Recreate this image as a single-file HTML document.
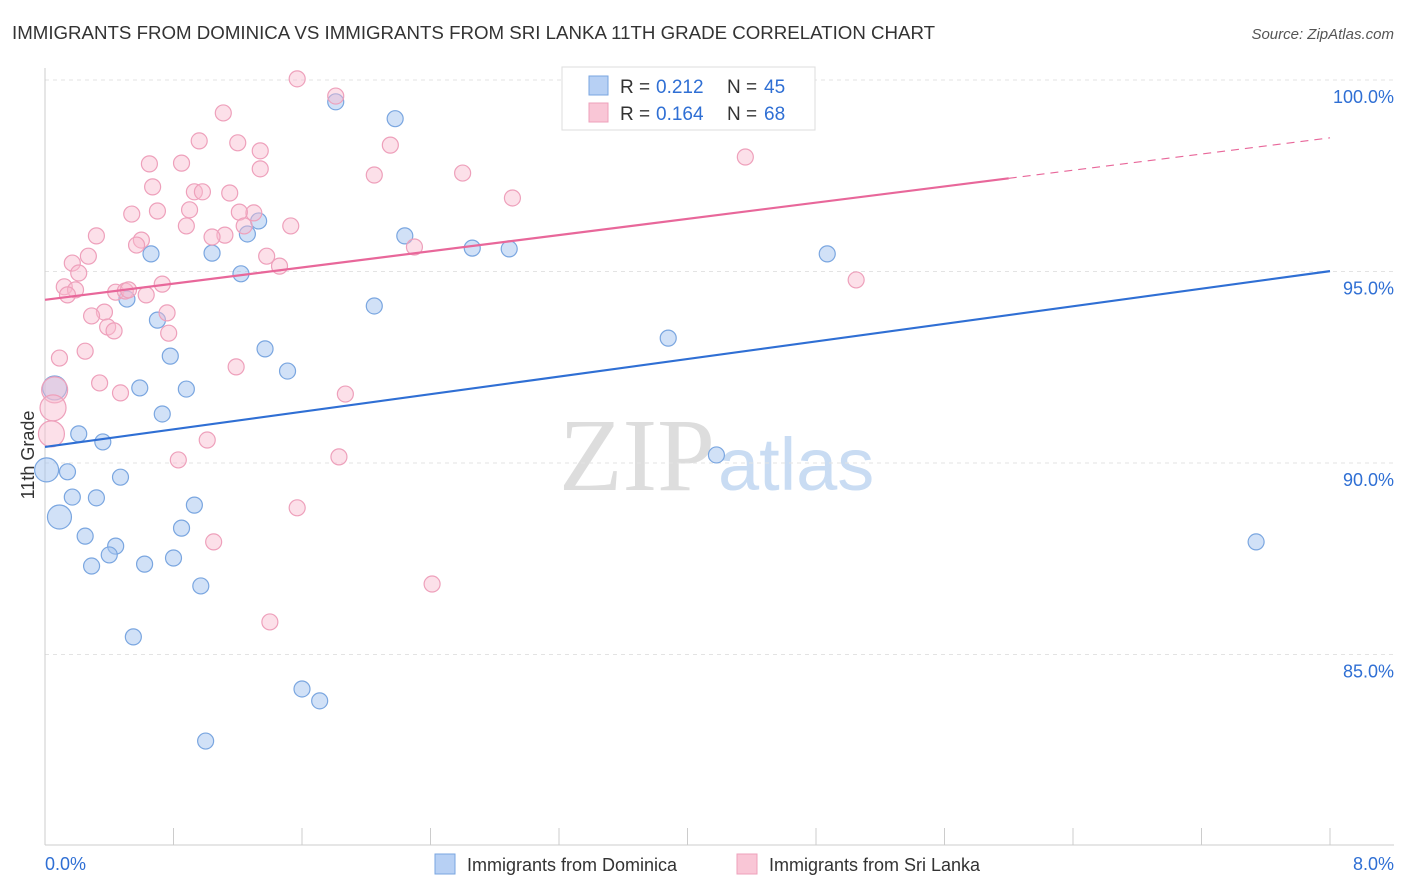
<!DOCTYPE html>
<html><head><meta charset="utf-8"><style>
body{margin:0;background:#fff;font-family:"Liberation Sans",sans-serif}
#c{position:relative;width:1406px;height:892px;overflow:hidden}
</style></head><body>
<div id="c">
<svg id="s" width="1406" height="892" xmlns="http://www.w3.org/2000/svg">
<text x="12" y="39" font-size="18.7" fill="#333">IMMIGRANTS FROM DOMINICA VS IMMIGRANTS FROM SRI LANKA 11TH GRADE CORRELATION CHART</text>
<text x="1394" y="39" font-size="15" fill="#555" text-anchor="end" font-style="italic">Source: ZipAtlas.com</text>
<text x="715" y="490" font-size="104" fill="#ddd" text-anchor="end" font-family="Liberation Serif">ZIP</text>
<text x="718" y="490" font-size="74" fill="#c9dcf3">atlas</text>
<text transform="translate(34,455) rotate(-90)" font-size="18" fill="#333" text-anchor="middle">11th Grade</text>
<g id="grid"></g><g id="pts"></g><g id="lines"></g>
<g>
<rect x="562" y="67" width="253" height="63" fill="#fff" stroke="#ddd"/>
<rect x="589" y="76" width="19" height="19" fill="#b7d0f4" stroke="#7aa6e0"/>
<rect x="589" y="103" width="19" height="19" fill="#f9c6d6" stroke="#eea0bb"/>
<text y="93" font-size="19" fill="#333"><tspan x="620">R =</tspan><tspan x="656" fill="#2f6fd4">0.212</tspan><tspan x="727">N =</tspan><tspan x="764" fill="#2f6fd4">45</tspan></text>
<text y="120" font-size="19" fill="#333"><tspan x="620">R =</tspan><tspan x="656" fill="#2f6fd4">0.164</tspan><tspan x="727">N =</tspan><tspan x="764" fill="#2f6fd4">68</tspan></text>
</g>
<g>
<rect x="435" y="854" width="20" height="20" fill="#b7d0f4" stroke="#7aa6e0"/>
<text x="467" y="871" font-size="18" fill="#333">Immigrants from Dominica</text>
<rect x="737" y="854" width="20" height="20" fill="#f9c6d6" stroke="#eea0bb"/>
<text x="769" y="871" font-size="18" fill="#333">Immigrants from Sri Lanka</text>
</g>
<text x="45" y="870" font-size="18" fill="#2f6fd4">0.0%</text>
<text x="1394" y="870" font-size="18" fill="#2f6fd4" text-anchor="end">8.0%</text>
</svg></div>
<script>
const blueX=[1.81,2.18,1.33,1.26,2.24,0.66,1.04,2.66,2.89,4.87,1.22,0.51,2.05,0.70,1.37,0.78,3.88,1.51,0.06,0.59,0.88,0.73,0.21,0.36,0.01,0.14,0.47,0.17,0.32,0.09,0.93,0.85,0.25,0.44,0.40,0.29,0.62,0.80,0.97,4.18,7.54,0.55,1.60,1.71,1.00];
const blueY=[99.43,98.99,96.32,95.98,95.93,95.46,95.48,95.61,95.59,95.46,94.94,94.28,94.10,93.73,92.98,92.79,93.26,92.40,91.96,91.96,91.93,91.28,90.76,90.55,89.82,89.77,89.63,89.11,89.09,88.59,88.90,88.30,88.09,87.83,87.60,87.31,87.36,87.52,86.79,90.21,87.94,85.46,84.10,83.79,82.74];
const blueBig=[0,0,0,0,0,0,0,0,0,0,0,0,0,0,0,0,0,0,1,0,0,0,0,0,1,0,0,0,0,1,0,0,0,0,0,0,0,0,0,0,0,0,0,0,0];
const pinkX=[1.57,1.81,1.11,0.96,1.20,2.15,1.34,0.65,0.85,1.34,2.05,2.60,4.36,0.67,0.93,1.15,0.98,2.91,0.54,0.70,0.90,1.30,1.21,1.24,0.88,1.53,0.32,1.12,1.04,0.60,0.57,2.30,0.27,0.17,1.38,0.21,1.46,0.12,0.19,0.14,0.44,0.50,0.52,0.63,0.73,5.05,0.37,0.29,0.76,0.39,0.43,0.77,0.25,0.09,0.34,0.47,0.06,0.05,0.04,1.19,1.87,1.01,0.83,1.83,1.57,1.05,2.41,1.40];
const pinkY=[100.03,99.58,99.14,98.41,98.36,98.30,98.15,97.81,97.83,97.68,97.52,97.57,97.99,97.21,97.08,97.05,97.08,96.92,96.50,96.58,96.61,96.53,96.55,96.19,96.19,96.19,95.93,95.95,95.90,95.82,95.69,95.64,95.40,95.22,95.40,94.96,95.14,94.60,94.52,94.39,94.46,94.49,94.52,94.39,94.67,94.78,93.94,93.84,93.92,93.55,93.45,93.39,92.92,92.74,92.09,91.83,91.91,91.44,90.76,92.51,91.80,90.60,90.08,90.16,88.83,87.94,86.84,85.85];
const pinkBig=pinkX.map((_,i)=>i>=56&&i<=58?1:0);
const yTicks=[100,95,90,85];
const yTickLabels=["100.0%","95.0%","90.0%","85.0%"];
const xTicks=[0,0.8,1.6,2.4,3.2,4,4.8,5.6,6.4,7.2,8];
const blueTrend=[90.42,95.01];
const pinkTrend=[94.26,98.49];
const pinkSolidEnd=6;
const X=v=>45+v*160.625, Y=v=>80+(100-v)*38.3;
const NS="http://www.w3.org/2000/svg";
function mk(t,a,p){const e=document.createElementNS(NS,t);for(const k in a)e.setAttribute(k,a[k]);p.appendChild(e);return e;}
const g=document.getElementById('grid');
yTicks.forEach((t,i)=>{
 const l=mk('line',{x1:45,x2:1394,y1:Y(t),y2:Y(t),stroke:'#e3e3e3','stroke-dasharray':'4,4'},g);
 
 
 const tx=mk('text',{x:1394,y:Y(t)+23,'font-size':18,fill:'#2f6fd4','text-anchor':'end'},g);
 tx.textContent=yTickLabels[i];
 
 
});
const ax=mk('line',{x1:45,x2:45,y1:68,y2:845,stroke:'#ccc'},g);


const bx=mk('line',{x1:45,x2:1394,y1:845,y2:845,stroke:'#ccc'},g);


xTicks.forEach(t=>{
 const l=mk('line',{x1:X(t),x2:X(t),y1:828,y2:845,stroke:'#ccc'},g);
 
 
});
const p=document.getElementById('pts');
blueX.forEach((v,i)=>{
 const c=mk('circle',{cx:X(v),cy:Y(blueY[i]),r:blueBig[i]?12:8,fill:'rgba(164,196,240,0.5)',stroke:'#7aa6e0','stroke-width':1.2},p);
 
 
});
pinkX.forEach((v,i)=>{
 const c=mk('circle',{cx:X(v),cy:Y(pinkY[i]),r:pinkBig[i]?13:8,fill:'rgba(248,186,206,0.45)',stroke:'#eea0bb','stroke-width':1.2},p);
 
 
});
const L=document.getElementById('lines');
const bl=mk('line',{x1:X(0),y1:Y(blueTrend[0]),x2:X(8),y2:Y(blueTrend[1]),stroke:'#2f6fd4','stroke-width':2.2},L);


const pe=pinkTrend[0]+(pinkTrend[1]-pinkTrend[0])*pinkSolidEnd/8;
const pl=mk('line',{x1:X(0),y1:Y(pinkTrend[0]),x2:X(pinkSolidEnd),y2:Y(pe),stroke:'#e8679a','stroke-width':2.2},L);


const pd=mk('line',{x1:X(pinkSolidEnd),y1:Y(pe),x2:X(8),y2:Y(pinkTrend[1]),stroke:'#e8679a','stroke-width':1.2,'stroke-dasharray':'8,6'},L);


</script>
</body></html>
